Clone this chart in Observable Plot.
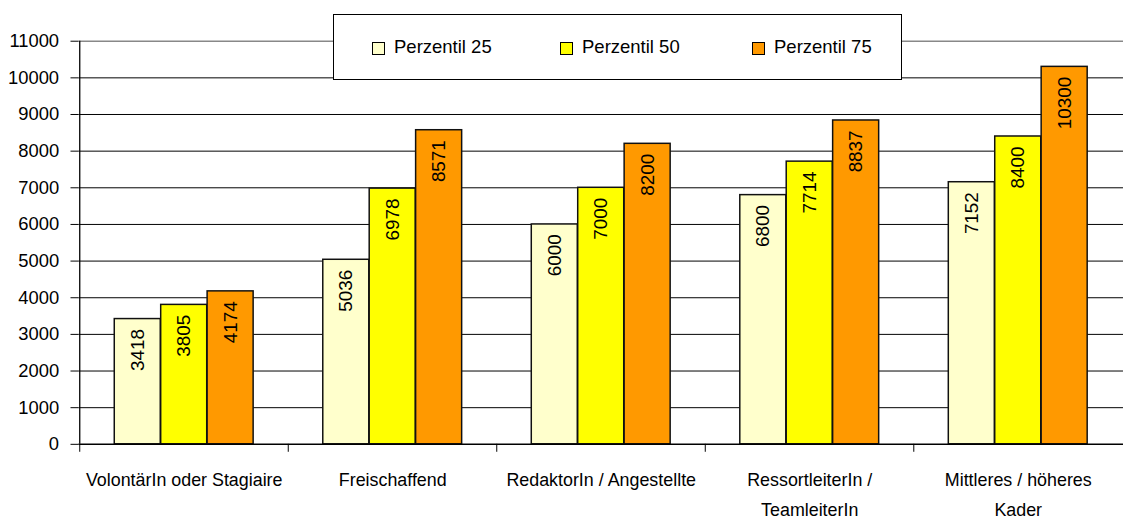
<!DOCTYPE html>
<html>
<head>
<meta charset="utf-8">
<script src="https://cdn.jsdelivr.net/npm/d3@7"></script>
<script src="https://cdn.jsdelivr.net/npm/@observablehq/plot@0.6"></script>
<style>
  html, body { margin: 0; padding: 0; background: #fff; }
  body { font-family: "Liberation Sans", Arial, sans-serif; }
  #wrap { position: relative; width: 1123px; height: 524px; overflow: hidden; }
  #legend { position: absolute; left: 333px; top: 14px; width: 567px; height: 64px; border: 1px solid #000; background: #fff; font-size: 18.5px; color: #000; }
  .item { position: absolute; top: 0; height: 64px; display: flex; align-items: center; white-space: nowrap; }
  .sw { width: 11px; height: 11px; border: 1.5px solid #000; margin-right: 9px; margin-top: 2px; }
</style>
</head>
<body>
<div id="wrap"><div id="legend"></div></div>
<script>
const categories = ["VolontärIn oder Stagiaire", "Freischaffend", "RedaktorIn / Angestellte", "RessortleiterIn / TeamleiterIn", "Mittleres / höheres Kader"];
const tickLabels = ["VolontärIn oder Stagiaire", "Freischaffend", "RedaktorIn / Angestellte", "RessortleiterIn /\nTeamleiterIn", "Mittleres / höheres\nKader"];
const series = ["Perzentil 25", "Perzentil 50", "Perzentil 75"];
const p25 = [3418, 5036, 6000, 6800, 7152];
const p50 = [3805, 6978, 7000, 7714, 8400];
const p75 = [4174, 8571, 8200, 8837, 10300];
const colors = ["#FFFFCC", "#FFFF00", "#FF9900"];
const yTicks = [0, 1000, 2000, 3000, 4000, 5000, 6000, 7000, 8000, 9000, 10000, 11000];

const values = [p25, p50, p75];
const rows = [];
series.forEach((s, j) => categories.forEach((c, i) => rows.push({category: c, series: s, value: values[j][i]})));

const W = 1131, H = 524, mL = 79, mR = 0, mT = 41, mB = 77;
const bw = (W - mL - mR) / categories.length;
const barW = bw * 2 / 9;
const outer = bw / 6;

const marks = [
  Plot.ruleY(yTicks.filter(v => v > 0 && v < 11000), {stroke: "#000", strokeWidth: 1}),
  Plot.ruleY([11000], {stroke: "#888", strokeWidth: 1.5}),
];
series.forEach((s, j) => {
  const d = rows.filter(r => r.series === s);
  marks.push(Plot.barY(d, {x: "category", y: "value", fill: colors[j], stroke: "#111", strokeWidth: 1.5,
    insetLeft: outer + j * barW, insetRight: bw - outer - (j + 1) * barW}));
});
series.forEach((s, j) => {
  const d = rows.filter(r => r.series === s);
  marks.push(Plot.text(d, {x: "category", y: "value", text: r => String(r.value), rotate: -90,
    textAnchor: "end", dy: 10, dx: (j - 1) * barW, fontSize: 19, fill: "#000"}));
});
marks.push(
  Plot.ruleY([0], {stroke: "#000", strokeWidth: 1.5}),
  Plot.ruleX(categories, {x: d => d, y1: 0, y2: 0, insetBottom: -8, dx: -bw / 2, stroke: "#000"}),
  Plot.ruleX([categories[0]], {x: d => d, y1: 0, y2: 11000, dx: -bw / 2, stroke: "#000", strokeWidth: 1.3}),
  Plot.axisY({ticks: yTicks, tickSize: 8, tickPadding: 12, fontSize: 18.5, label: null, tickFormat: d => String(d)}),
  Plot.axisX({tickSize: 0, tickPadding: 21, fontSize: 18, lineHeight: 1.65, label: null,
    tickFormat: d => tickLabels[categories.indexOf(d)]})
);

const chart = Plot.plot({
  width: W, height: H,
  marginLeft: mL, marginRight: mR, marginTop: mT, marginBottom: mB,
  style: {fontFamily: "Liberation Sans, Arial, sans-serif", background: "transparent", color: "#000"},
  x: {type: "band", domain: categories, padding: 0, label: null},
  y: {domain: [0, 11000], label: null},
  marks
});
const wrap = document.getElementById("wrap");
wrap.insertBefore(chart, wrap.firstChild);

const legend = document.getElementById("legend");
const lefts = [38, 226, 418];
series.forEach((s, j) => {
  const it = document.createElement("div");
  it.className = "item";
  it.style.left = lefts[j] + "px";
  const sw = document.createElement("div");
  sw.className = "sw";
  sw.style.background = colors[j];
  const t = document.createElement("span");
  t.textContent = s;
  it.appendChild(sw); it.appendChild(t);
  legend.appendChild(it);
});
</script>
</body>
</html>
